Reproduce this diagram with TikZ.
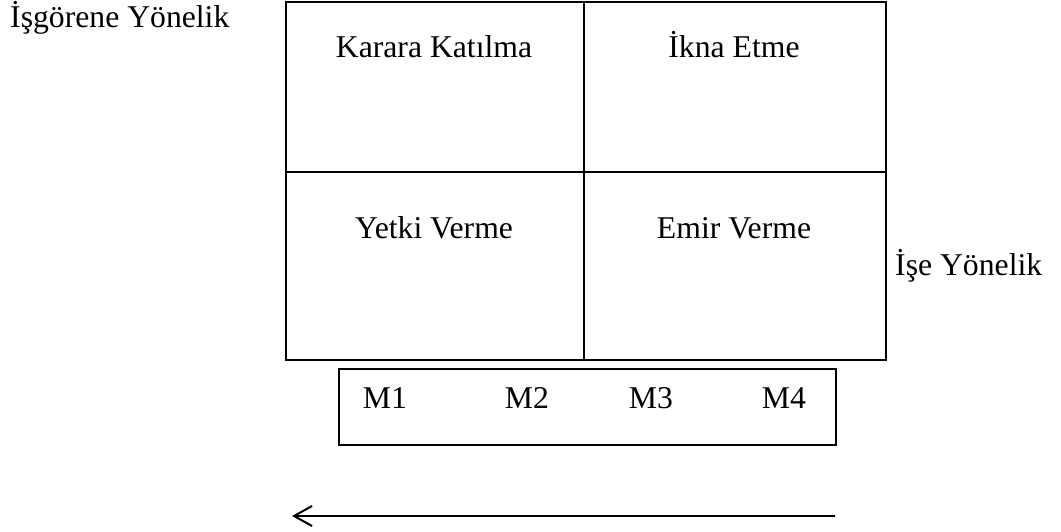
\documentclass[tikz,border=0pt]{standalone}
\usepackage{fontspec}
\setmainfont{Liberation Serif}
\usetikzlibrary{arrows.meta}
\begin{document}
\begin{tikzpicture}[x=1pt,y=-1pt,
  cell/.style={draw=black,line width=2pt,inner sep=0pt,anchor=north west},
  lbl/.style={font=\fontsize{31.7}{36}\selectfont,inner sep=0pt,anchor=base},
  lblw/.style={font=\fontsize{31.7}{36}\selectfont,inner sep=0pt,anchor=base west},
  conn/.style={line width=2pt,-{Straight Barb[length=18pt,width=20pt,line width=2pt]}}]
\useasboundingbox (0,0) rectangle (1061,532);
% grid cells
\node[cell,minimum width=298pt,minimum height=170pt] (tl) at (285,1) {};
\node[cell,minimum width=302pt,minimum height=170pt] (tr) at (583,1) {};
\node[cell,minimum width=298pt,minimum height=188pt] (bl) at (285,171) {};
\node[cell,minimum width=302pt,minimum height=188pt] (br) at (583,171) {};
% cell texts
\node[lbl] (t1) at (434,58) {Karara Katılma};
\node[lbl] (t2) at (734,58) {İkna Etme};
\node[lbl] (t3) at (434,238) {Yetki Verme};
\node[lbl] (t4) at (734,238) {Emir Verme};
% side texts
\node[lblw] (isg) at (10,28) {İşgörene Yönelik};
\node[lblw] (ise) at (895,275) {İşe Yönelik};
% M box
\node[cell,minimum width=497pt,minimum height=76pt] (mbox) at (338,368) {};
\node[lbl] (m1) at (385,408) {M1};
\node[lbl] (m2) at (527,408) {M2};
\node[lbl] (m3) at (651,408) {M3};
\node[lbl] (m4) at (784,408) {M4};
% arrow
\coordinate (aS) at (835,516);
\coordinate (aE) at (292,516);
\draw[conn] (aS) -- (aE);
\end{tikzpicture}
\end{document}
